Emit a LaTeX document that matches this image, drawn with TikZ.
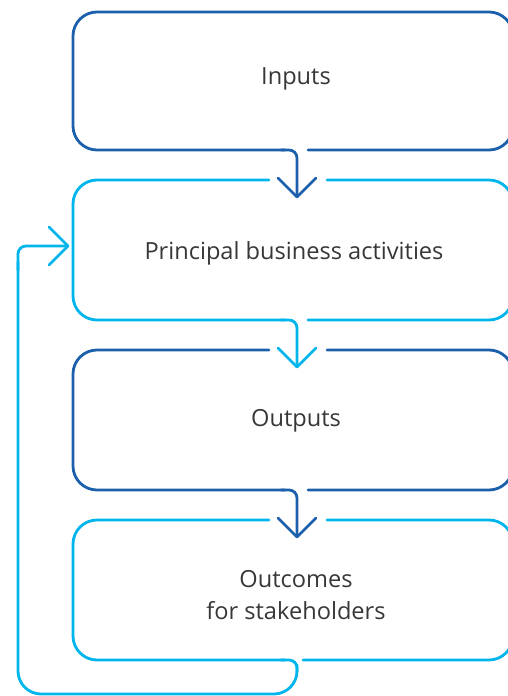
\documentclass[tikz,border=0pt]{standalone}
\usepackage{fontspec}
\setmainfont{Open Sans}
\usetikzlibrary{calc}
\definecolor{darkblue}{RGB}{28,96,172}
\definecolor{lightblue}{RGB}{0,180,236}
\definecolor{txtgray}{RGB}{55,55,55}
\tikzset{
  dk/.style={draw=darkblue, line width=2.8pt, line cap=round, line join=round},
  lt/.style={draw=lightblue, line width=2.8pt, line cap=round, line join=round},
  lbl/.style={text=txtgray, font=\fontsize{23.6}{32}\selectfont, align=center, inner sep=0pt},
}
\begin{document}
\begin{tikzpicture}[x=1pt,y=-1pt]
\useasboundingbox (0,0) rectangle (508,696);
% text nodes
\node[lbl] (inputs) at (296,79) {Inputs};
\node[lbl] (pba) at (294,253) {Principal business activities};
\node[lbl] (outputs) at (296,421) {Outputs};
\node[lbl] (outcomes) at (296,595) {Outcomes\\for stakeholders};
% arrow tip coordinates
\coordinate (t1) at (297,197);
\coordinate (t2) at (297,367);
\coordinate (t3) at (297,537);
\coordinate (t4) at (68,246);
% Box 1 (Inputs)
\draw[dk, rounded corners=24] (308,150) -- (513,150) -- (513,12) -- (73,12) -- (73,150) -- (285,150);
\draw[dk, rounded corners=8] (281,150) -- (297,150) -- (t1);
\draw[dk] ($(t1)+(-19,-19)$) -- (t1) -- ($(t1)+(19,-19)$);
% Box 2 (Principal business activities)
\draw[lt, rounded corners=24] (327,180) -- (513,180) -- (513,320) -- (308,320);
\draw[lt, rounded corners=24] (269,180) -- (73,180) -- (73,320) -- (285,320);
\draw[lt, rounded corners=8] (281,320) -- (297,320) -- (t2);
\draw[lt] ($(t2)+(-19,-19)$) -- (t2) -- ($(t2)+(19,-19)$);
% Box 3 (Outputs)
\draw[dk, rounded corners=24] (327,350) -- (513,350) -- (513,490) -- (308,490);
\draw[dk, rounded corners=24] (269,350) -- (73,350) -- (73,490) -- (285,490);
\draw[dk, rounded corners=8] (281,490) -- (297,490) -- (t3);
\draw[dk] ($(t3)+(-19,-19)$) -- (t3) -- ($(t3)+(19,-19)$);
% Box 4 (Outcomes)
\draw[lt, rounded corners=24] (327,520) -- (513,520) -- (513,660) -- (303,660);
\draw[lt, rounded corners=24] (269,520) -- (73,520) -- (73,660) -- (285,660);
\draw[lt, rounded corners=8] (281,660) -- (297,660) -- (297,672);
% feedback loop
\draw[lt, rounded corners=23] (297,665) -- (297,694) -- (18,694) -- (18,262);
\draw[lt, rounded corners=8] (18,270) -- (18,246) -- (t4);
\draw[lt] ($(t4)+(-19,-19)$) -- (t4) -- ($(t4)+(-19,19)$);
\end{tikzpicture}
\end{document}
